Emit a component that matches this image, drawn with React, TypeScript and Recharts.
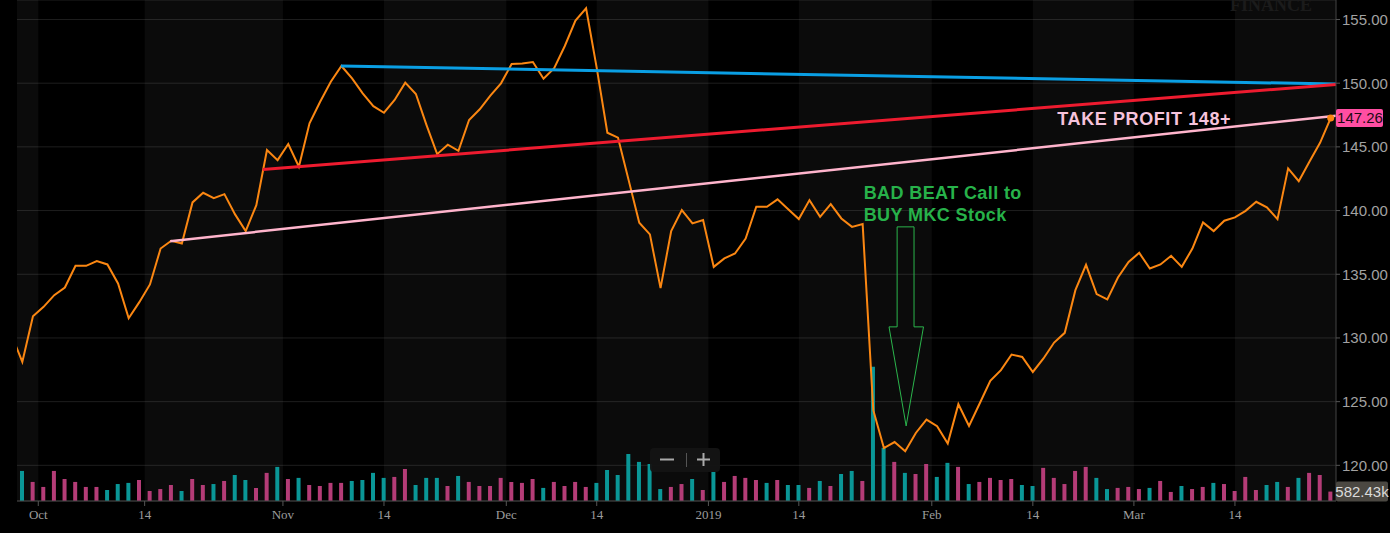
import React from "react";
import {
  Bar,
  CartesianGrid,
  Cell,
  ComposedChart,
  Line,
  ReferenceArea,
  ReferenceDot,
  ReferenceLine,
  XAxis,
  YAxis,
} from "recharts";

// trading sessions from Sep 27 2018 to Mar 27 2019, one slot per session
// first value is the session before the visible window (clipped at the left edge)
const closes = [
  130.2, 128.12, 131.71, 132.44, 133.36, 133.96, 135.66, 135.66, 136.03, 135.77, 134.28,
  131.55, 132.81, 134.2, 137.02, 137.63, 137.42, 140.64, 141.4, 140.98, 141.29,
  139.7, 138.39, 140.43, 144.75, 143.96, 145.22, 143.44, 146.85, 148.54, 150.11,
  151.35, 150.38, 149.2, 148.2, 147.68, 148.68, 150.04, 149.15, 146.71, 144.43,
  145.17, 144.69, 147.11, 147.95, 149.02, 149.99, 151.5, 151.55, 151.66, 150.35,
  151.17, 152.92, 154.91, 155.88, 151.2, 146.11, 145.72, 142.39, 139.04, 138.13,
  133.91, 138.39, 140.04, 138.99, 139.25, 135.58, 136.24, 136.63, 137.81, 140.3,
  140.3, 140.88, 140.11, 139.33, 140.82, 139.51, 140.51, 139.38, 138.72, 138.94,
  124.33, 121.36, 121.83, 121.1, 122.54, 123.59, 123.07, 121.71, 124.8, 123.09,
  124.85, 126.63, 127.47, 128.7, 128.51, 127.33, 128.39, 129.64, 130.4, 133.75,
  135.74, 133.44, 133.02, 134.75, 135.97, 136.68, 135.45, 135.77, 136.45, 135.58,
  137.02, 139.07, 138.39, 139.2, 139.46, 139.98, 140.69, 140.25, 139.33, 143.31,
  142.31, 143.83, 145.32, 147.26,
];

// volume in thousands, one per visible session
const volumes = [
  1860, 1180, 870, 1860, 1360, 1180, 870, 870, 680, 1050, 1120, 1300, 620, 740,
  990, 620, 1360, 990, 1050, 1240, 1610, 1300, 810, 1740, 2110, 1360, 1430, 990,
  930, 1120, 1120, 1240, 1300, 1740, 1430, 1490, 1980, 990, 1430, 1430, 930, 1550,
  1180, 930, 930, 1430, 1180, 1120, 1360, 810, 1180, 930, 1180, 870, 1120, 1920,
  1610, 2910, 2420, 2290, 740, 870, 1050, 1360, 680, 1800, 1180, 1550, 1430, 1300,
  1120, 1300, 990, 990, 810, 1240, 930, 1670, 1860, 1240, 8310, 3290, 2420, 1740,
  1670, 2290, 1490, 2360, 2110, 1050, 1180, 1430, 1300, 1360, 990, 930, 2050, 1430,
  1050, 1860, 2110, 1430, 740, 810, 870, 740, 810, 1240, 560, 930, 740, 870, 1120,
  1050, 620, 1490, 680, 990, 1180, 870, 1430, 1740, 1610, 582.43,
];

// u = up session, d = down session (ten sessions per chunk)
const sessionDirection = [
  "uddddddduu", "udddduddud", "uuddududdd", "duuuudduuu", "dudddddddu",
  "dddduuuuuu", "uddududddd", "uduududuud", "uududduudu", "dddduudddd",
  "duuddduddu", "ddudddduud", "uddd",
].join("");

const tickPositions = [2, 12, 25, 34.5, 46, 54.5, 65, 73.5, 86, 95.5, 105, 114.5];
const tickLabels = ["Oct", "14", "Nov", "14", "Dec", "14", "2019", "14", "Feb", "14", "Mar", "14"];
const priceTicks = [120, 125, 130, 135, 140, 145, 150, 155];

const trendLines = [
  { name: "resistance", from: [30.45, 151.35], to: [124, 149.93], color: "#0a9fe4" },
  { name: "support", from: [23.1, 143.22], to: [124, 149.9], color: "#ee1b2f" },
  { name: "target", from: [14.4, 137.6], to: [124, 147.45], color: "#ffb4cc" },
];

// outline of the hand drawn arrow, in (session, price)
const arrowOutline = [
  [82.74, 138.72], [84.33, 138.72], [84.33, 130.87], [85.22, 130.87],
  [83.59, 123.09], [81.98, 130.87], [82.74, 130.87], [82.74, 138.72],
];

const sessions = volumes.length;
const lastClose = closes[closes.length - 1];
const lastVolume = volumes[volumes.length - 1];

const data = closes.map((close, i) => ({
  x: i - 0.5,
  close,
  volume: i === 0 ? null : volumes[i - 1],
  dir: i === 0 ? "u" : sessionDirection[i - 1],
}));

const edges = [0, ...tickPositions, sessions];
const bands = edges.slice(0, -1).map((start, i) => ({ start, end: edges[i + 1], light: i % 2 === 0 }));

const narrow = "'Liberation Sans Narrow', 'Arial Narrow', Arial, sans-serif";
const sans = "'Liberation Sans', Arial, sans-serif";

export default function App() {
  return (
    <div style={{ position: "absolute", left: 0, top: 0, width: 1390, height: 533, background: "#000", overflow: "hidden" }}>
      <ComposedChart width={1390} height={533} data={data} margin={{ top: 0, right: 0, bottom: 0, left: 17 }}>
        <XAxis
          dataKey="x"
          type="number"
          domain={[0, sessions]}
          allowDataOverflow
          ticks={tickPositions}
          interval={0}
          tickFormatter={(v) => tickLabels[tickPositions.indexOf(v)]}
          height={32}
          tickSize={5}
          tickMargin={4}
          axisLine={{ stroke: "#444" }}
          tickLine={{ stroke: "#555" }}
          tick={{ fill: "#9c9c9c", fontSize: 13, fontFamily: "'Liberation Serif', 'Times New Roman', serif" }}
        />
        <YAxis
          yAxisId="price"
          orientation="right"
          type="number"
          domain={[117.2, 156.53]}
          allowDataOverflow
          ticks={priceTicks}
          interval={0}
          tickFormatter={(v) => v.toFixed(2)}
          width={54}
          tickSize={4}
          tickMargin={2}
          axisLine={{ stroke: "#444" }}
          tickLine={{ stroke: "#555" }}
          tick={{ fill: "#a2a2a2", fontSize: 15, fontFamily: narrow }}
        />
        <YAxis yAxisId="vol" hide domain={[0, 31000]} />
        <CartesianGrid yAxisId="price" vertical={false} stroke="#1e1e1e" />
        {bands
          .filter((b) => b.light)
          .map((b) => (
            <ReferenceArea
              key={b.start}
              yAxisId="price"
              x1={b.start}
              x2={b.end}
              fill="#ffffff"
              fillOpacity={0.045}
              stroke="none"
            />
          ))}
        <Bar yAxisId="vol" dataKey="volume" barSize={4} isAnimationActive={false}>
          {data.map((d, i) => (
            <Cell key={i} fill={d.dir === "u" ? "#0a9797" : "#b43c77"} />
          ))}
        </Bar>
        <Line
          yAxisId="price"
          dataKey="close"
          type="linear"
          stroke="#fb8712"
          strokeWidth={2}
          dot={false}
          isAnimationActive={false}
        />
        {trendLines.map((t) => (
          <ReferenceLine
            key={t.name}
            yAxisId="price"
            segment={[
              { x: t.from[0], y: t.from[1] },
              { x: t.to[0], y: t.to[1] },
            ]}
            stroke={t.color}
            strokeWidth={t.name === "target" ? 2.5 : 3}
          />
        ))}
        {arrowOutline.slice(0, -1).map((p, i) => (
          <ReferenceLine
            key={"arrow" + i}
            yAxisId="price"
            segment={[
              { x: p[0], y: p[1] },
              { x: arrowOutline[i + 1][0], y: arrowOutline[i + 1][1] },
            ]}
            stroke="#2bb54c"
            strokeWidth={1}
          />
        ))}
        <ReferenceDot
          yAxisId="price"
          x={79.6}
          y={140.9}
          r={0}
          shape={(p: any) => (
            <text x={p.cx} y={p.cy} fill="#27b24a" fontSize={18} fontWeight="bold" fontFamily={sans} letterSpacing={0.4}>
              <tspan x={p.cx}>BAD BEAT Call to</tspan>
              <tspan x={p.cx} dy={22}>BUY MKC Stock</tspan>
            </text>
          )}
        />
        <ReferenceDot
          yAxisId="price"
          x={97.8}
          y={146.71}
          r={0}
          shape={(p: any) => (
            <text x={p.cx} y={p.cy} fill="#f6c3dc" fontSize={18} fontWeight="bold" fontFamily={sans} letterSpacing={0.6}>
              TAKE PROFIT 148+
            </text>
          )}
        />
        <ReferenceDot yAxisId="price" x={sessions - 0.5} y={lastClose} r={3.5} fill="#fb8712" stroke="none" />
        <ReferenceDot
          yAxisId="price"
          x={sessions}
          y={lastClose}
          r={0}
          shape={(p: any) => (
            <g>
              <rect x={p.cx} y={p.cy - 9} width={47} height={18} rx={2} fill="#ff4ea2" />
              <text x={p.cx + 24} y={p.cy + 5} textAnchor="middle" fill="#1c0a14" fontSize={15} fontFamily={narrow}>
                {lastClose.toFixed(2)}
              </text>
            </g>
          )}
        />
        <ReferenceDot
          yAxisId="vol"
          x={sessions}
          y={lastVolume}
          r={0}
          shape={(p: any) => (
            <g>
              <rect x={p.cx} y={p.cy - 10} width={52} height={20} rx={2} fill="#4b4842" />
              <text x={p.cx + 26} y={p.cy + 5} textAnchor="middle" fill="#dadada" fontSize={15} fontFamily={narrow}>
                {lastVolume.toFixed(2)}k
              </text>
            </g>
          )}
        />
      </ComposedChart>
      <svg width={1390} height={533} style={{ position: "absolute", left: 0, top: 0, pointerEvents: "none" }}>
        <text x={1230} y={11} fill="#1b1b1b" fontSize={18} fontWeight="bold" fontFamily="'Liberation Serif', serif">
          FINANCE
        </text>
        <rect x={650} y={448} width={70} height={24} rx={4} fill="#141414" fillOpacity={0.95} />
        <line x1={660} y1={459.5} x2={674} y2={459.5} stroke="#aaa" strokeWidth={2} />
        <line x1={686.5} y1={453} x2={686.5} y2={467} stroke="#555" strokeWidth={1} />
        <line x1={697} y1={459.5} x2={710} y2={459.5} stroke="#aaa" strokeWidth={2} />
        <line x1={703.5} y1={453} x2={703.5} y2={466} stroke="#aaa" strokeWidth={2} />
      </svg>
    </div>
  );
}
